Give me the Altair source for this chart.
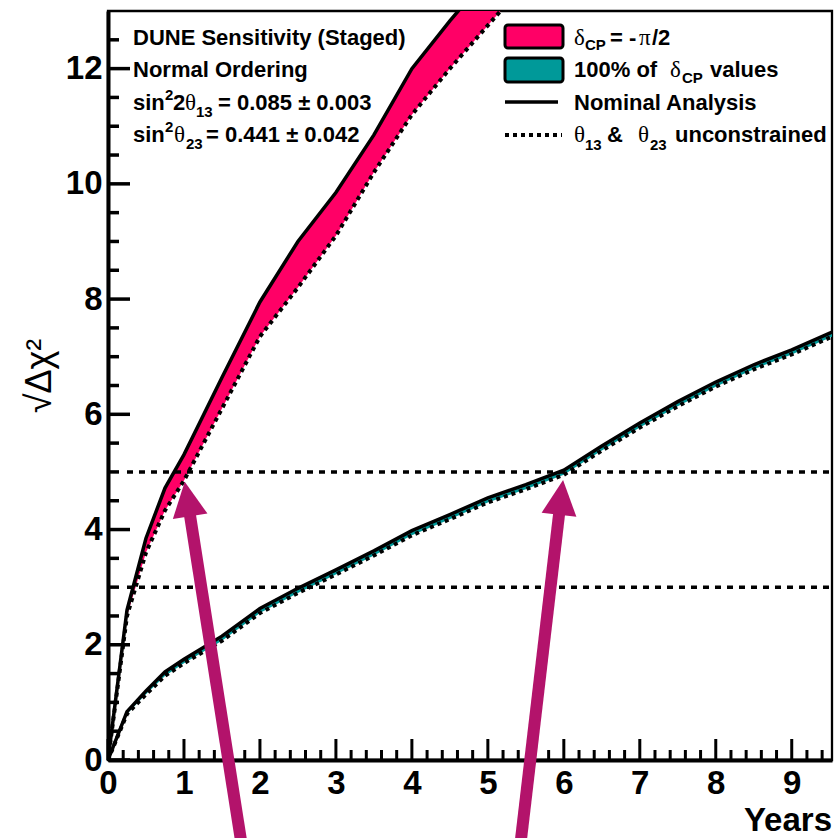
import math
import pandas as pd
import altair as alt

# ---------------- data ----------------
# delta_CP = -pi/2 band
years_hi = [0, 0.25, 0.5, 0.75, 1, 1.5, 2, 2.5, 3, 3.5, 4, 4.5, 5, 5.5]
nominal_hi = [0, 2.6, 3.85, 4.72, 5.3, 6.64, 7.95, 9.0, 9.85, 10.85, 12.0, 12.83, 13.6, 14.3]
unconstr_hi = [0, 2.5, 3.6, 4.33, 4.85, 6.1, 7.35, 8.2, 9.1, 10.2, 11.2, 12.0, 12.75, 13.5]

# 100% of delta_CP values band
years_lo = [0, 0.25, 0.5, 0.75, 1, 1.5, 2, 2.5, 3, 3.5, 4, 4.5, 5, 5.5, 6, 6.5, 7, 7.5, 8, 8.5, 9, 9.5, 10]
nominal_lo = [0, 0.84, 1.2, 1.53, 1.75, 2.15, 2.63, 2.98, 3.3, 3.63, 3.98, 4.26, 4.55, 4.78, 5.03, 5.45, 5.85,
              6.22, 6.56, 6.86, 7.12, 7.41, 7.68]
unconstr_lo = [0, 0.8, 1.14, 1.46, 1.68, 2.07, 2.55, 2.9, 3.22, 3.55, 3.9, 4.18, 4.47, 4.7, 4.95, 5.37, 5.77,
               6.14, 6.48, 6.78, 7.04, 7.33, 7.6]

# significance thresholds (dotted horizontal lines)
threshold_levels = [3, 5]
threshold_start = [0.25, 0.25]

# axis tick labels
x_tick_labels = [0, 1, 2, 3, 4, 5, 6, 7, 8, 9]
y_tick_labels = [0, 2, 4, 6, 8, 10, 12]
x_minor = [round(i * 0.2, 2) for i in range(0, 48) if i % 5 != 0]
y_minor = [i * 0.5 for i in range(1, 26) if i % 4 != 0]

# annotation arrows (tail below the frame, tip on the curves)
arrow_tail_x = [1.77, 5.42]
arrow_tail_y = [-1.56, -1.56]
arrow_tip_x = [1.01, 5.99]
arrow_tip_y = [4.83, 4.86]

# ---------------- style ----------------
W, H = 724, 749
XMAX, YMAX = 9.53, 13.0
PADL, PADT = 108, 11
PINK = "#ff0066"
TEAL = "#009999"
MAG = "#b3136b"
SANS = "Liberation Sans"
SERIF = "Liberation Serif"

x_axis = alt.Axis(values=x_tick_labels, format="d", title=None, grid=False, ticks=False, tickSize=0,
                  labelFont=SANS, labelFontWeight="bold", labelFontSize=33, labelColor="black",
                  labelPadding=7, labelFlush=False, labelOverlap=False,
                  domainColor="black", domainWidth=4)
y_axis = alt.Axis(values=y_tick_labels, format="d", title=None, grid=False, ticks=False, tickSize=0,
                  labelFont=SANS, labelFontWeight="bold", labelFontSize=33, labelColor="black",
                  labelPadding=6, labelFlush=False, labelOverlap=False,
                  domainColor="black", domainWidth=4)


def X(field):
    return alt.X(f"{field}:Q", scale=alt.Scale(domain=[0, XMAX], nice=False, zero=False), axis=x_axis)


def Y(field):
    return alt.Y(f"{field}:Q", scale=alt.Scale(domain=[0, YMAX], nice=False, zero=False), axis=y_axis)


layers = []

df_hi = pd.DataFrame({"year": years_hi, "nom": nominal_hi, "unc": unconstr_hi})
df_lo = pd.DataFrame({"year": years_lo, "nom": nominal_lo, "unc": unconstr_lo})

for df, col in [(df_hi, PINK), (df_lo, TEAL)]:
    layers.append(alt.Chart(df).mark_area(color=col, opacity=1, clip=True)
                  .encode(x=X("year"), y=Y("unc"), y2=alt.Y2("nom:Q")))

# thresholds
df_thr = pd.DataFrame({"level": threshold_levels, "start": threshold_start})
layers.append(alt.Chart(df_thr).mark_rule(color="black", strokeWidth=3.5, strokeDash=[6, 6])
              .encode(x=X("start"), x2=alt.value(W), y=Y("level")))

for df in [df_hi, df_lo]:
    layers.append(alt.Chart(df).mark_line(color="black", strokeWidth=3.5, clip=True)
                  .encode(x=X("year"), y=Y("nom")))
    layers.append(alt.Chart(df).mark_line(color="black", strokeWidth=4, strokeDash=[4, 4], clip=True)
                  .encode(x=X("year"), y=Y("unc")))

# inward ticks
layers.append(alt.Chart(pd.DataFrame({"v": y_tick_labels})).mark_rule(color="black", strokeWidth=3.5)
              .encode(y=Y("v"), x=alt.value(0), x2=alt.value(22)))
layers.append(alt.Chart(pd.DataFrame({"v": y_minor})).mark_rule(color="black", strokeWidth=3.5)
              .encode(y=Y("v"), x=alt.value(0), x2=alt.value(11)))
layers.append(alt.Chart(pd.DataFrame({"v": x_tick_labels})).mark_rule(color="black", strokeWidth=3)
              .encode(x=X("v"), y=alt.value(H), y2=alt.value(H - 21)))
layers.append(alt.Chart(pd.DataFrame({"v": x_minor})).mark_rule(color="black", strokeWidth=3)
              .encode(x=X("v"), y=alt.value(H), y2=alt.value(H - 10)))

dummy = pd.DataFrame({"a": [0]})

# legend samples
layers.append(alt.Chart(dummy).mark_rect(fill=PINK, stroke="black", strokeWidth=3, cornerRadius=3)
              .encode(x=alt.value(505 - PADL), x2=alt.value(563 - PADL),
                      y=alt.value(25 - PADT), y2=alt.value(48 - PADT)))
layers.append(alt.Chart(dummy).mark_rect(fill=TEAL, stroke="black", strokeWidth=3, cornerRadius=3)
              .encode(x=alt.value(505 - PADL), x2=alt.value(563 - PADL),
                      y=alt.value(58 - PADT), y2=alt.value(82 - PADT)))
layers.append(alt.Chart(dummy).mark_rule(color="black", strokeWidth=3.5)
              .encode(x=alt.value(505 - PADL), x2=alt.value(558 - PADL), y=alt.value(102 - PADT)))
layers.append(alt.Chart(dummy).mark_rule(color="black", strokeWidth=4, strokeDash=[4, 4])
              .encode(x=alt.value(505 - PADL), x2=alt.value(562 - PADL), y=alt.value(135 - PADT)))

# text segments: (style, text, x px, baseline px)
segments = [
    ("B", "DUNE Sensitivity (Staged)", 133, 45),
    ("B", "Normal Ordering", 133, 77),
    ("B", "sin", 133, 110),
    ("S", "2", 165, 100),
    ("B", "2", 173, 110),
    ("G", "θ", 185, 110),
    ("S", "13", 196, 117),
    ("B", "= 0.085 ± 0.003", 218, 110),
    ("B", "sin", 133, 142),
    ("S", "2", 165, 132),
    ("G", "θ", 174, 142),
    ("S", "23", 186, 149),
    ("B", "= 0.441 ± 0.042", 206, 142),
    ("G", "δ", 574, 45),
    ("S", "CP", 585, 50),
    ("B", "= -", 610, 45),
    ("G", "π", 639, 45),
    ("B", "/2", 652, 45),
    ("B", "100% of", 574, 77),
    ("G", "δ", 670, 77),
    ("S", "CP", 682, 83),
    ("B", "values", 710, 77),
    ("B", "Nominal Analysis", 574, 110),
    ("G", "θ", 574, 142),
    ("S", "13", 585, 150),
    ("B", "&", 607, 142),
    ("G", "θ", 638, 142),
    ("S", "23", 650, 150),
    ("B", "unconstrained", 675, 142),
]
styles = {
    "B": dict(font=SANS, fontSize=22, fontWeight="bold"),
    "S": dict(font=SANS, fontSize=15, fontWeight="bold"),
    "G": dict(font=SERIF, fontSize=23, fontWeight="normal"),
}
for st, txt, px, py in segments:
    layers.append(alt.Chart(dummy).mark_text(align="left", baseline="alphabetic", color="black", **styles[st])
                  .encode(x=alt.value(px - PADL), y=alt.value(py - PADT), text=alt.value(txt)))

# axis titles
layers.append(alt.Chart(dummy).mark_text(font=SANS, fontSize=36, angle=270, align="center",
                                         baseline="middle", color="black")
              .encode(x=alt.value(40 - PADL), y=alt.value(376 - PADT), text=alt.value("√Δχ²")))
layers.append(alt.Chart(dummy).mark_text(font=SANS, fontSize=33, fontWeight="bold", align="right",
                                         baseline="alphabetic", color="black")
              .encode(x=alt.value(832 - PADL), y=alt.value(831 - PADT), text=alt.value("Years")))

# arrows
pxx = W / XMAX
pxy = H / YMAX
rows = []
for tx, ty, hx, hy in zip(arrow_tail_x, arrow_tail_y, arrow_tip_x, arrow_tip_y):
    dxp = (hx - tx) * pxx
    dyp = (hy - ty) * pxy
    a = math.atan2(dxp, dyp)
    back = 18
    rows.append({"tailx": tx, "taily": ty, "tipx": hx, "tipy": hy,
                 "neckx": hx - back * math.sin(a) / pxx, "necky": hy - back * math.cos(a) / pxy,
                 "ang": math.degrees(a) % 360})
df_arr = pd.DataFrame(rows)
layers.append(alt.Chart(df_arr).mark_rule(color=MAG, strokeWidth=12, strokeCap="butt")
              .encode(x=X("tailx"), y=Y("taily"), x2=alt.X2("neckx:Q"), y2=alt.Y2("necky:Q")))
layers.append(alt.Chart(df_arr).mark_point(shape="M0,0 L1,2 L-1,2 Z", size=1225, filled=True,
                                           fill=MAG, color=MAG, opacity=1, strokeWidth=0)
              .encode(x=X("tipx"), y=Y("tipy"), angle=alt.Angle("ang:Q", scale=None)))

chart = (alt.layer(*layers)
         .properties(width=W, height=H, autosize=alt.AutoSizeParams(type="none"),
                     padding={"left": PADL, "top": PADT, "right": 3, "bottom": 78},
                     background="white")
         .configure_view(stroke="black", strokeWidth=2.3))

chart.save("out.html", embed_options={"renderer": "svg", "actions": False})
